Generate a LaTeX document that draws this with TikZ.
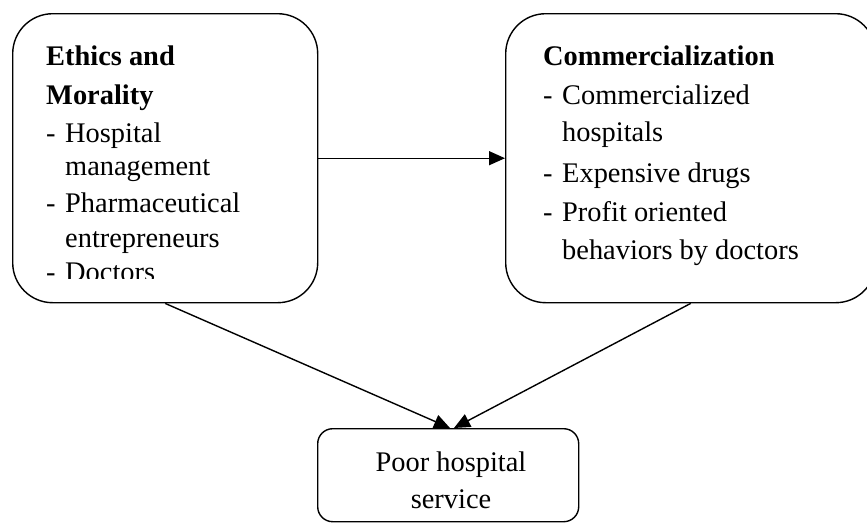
\documentclass[tikz,border=0pt]{standalone}
\usepackage{fontspec}
\setmainfont{Liberation Serif}
\usetikzlibrary{arrows.meta}
\begin{document}
\begin{tikzpicture}[x=1pt,y=-1pt,
  box/.style={draw, line width=1.4pt, rounded corners=40pt, inner sep=0pt, anchor=north west},
  smallbox/.style={box, rounded corners=15pt},
  arr/.style={line width=1.4pt, -{Triangle[length=16pt,width=14pt]}},
  txt/.style={anchor=base west, inner sep=0pt, font=\fontsize{28.4}{30}\selectfont},
  hd/.style={txt, font=\fontsize{28.4}{30}\selectfont\bfseries},
  ctxt/.style={txt, anchor=base}]
\useasboundingbox (0,0) rectangle (867,523);
\clip (0,0) rectangle (867,523);
\newcommand{\dashitem}{\makebox[19pt][l]{-}}
% boxes
\node[box, minimum width=305pt, minimum height=289pt] (L) at (12,13) {};
\node[box, minimum width=370pt, minimum height=289pt] (R) at (505,13) {};
\node[smallbox, minimum width=261pt, minimum height=93pt] (B) at (317,428) {};
% left text
\begin{scope}
\clip (12,13) rectangle (317,278);
\node[hd] (l1) at (46,65) {Ethics and};
\node[hd] (l2) at (46,104) {Morality};
\node[txt] (l3) at (46,142) {\dashitem Hospital};
\node[txt] (l4) at (65,175) {management};
\node[txt] (l5) at (46,212) {\dashitem Pharmaceutical};
\node[txt] (l6) at (65,247) {entrepreneurs};
\node[txt] (l7) at (46,281) {\dashitem Doctors};
\end{scope}
% right text
\node[hd] (r1) at (543,65) {Commercialization};
\node[txt] (r2) at (543,104) {\dashitem Commercialized};
\node[txt] (r3) at (562,141) {hospitals};
\node[txt] (r4) at (543,182) {\dashitem Expensive drugs};
\node[txt] (r5) at (543,221) {\dashitem Profit oriented};
\node[txt] (r6) at (562,259) {behaviors by doctors};
% bottom text
\node[ctxt] (b1) at (451,471) {Poor hospital};
\node[ctxt] (b2) at (451,508) {service};
% connectors
\coordinate (tl) at (450,428);
\coordinate (tr) at (454,428);
\draw[arr] (L.east) -- (R.west);
\draw[arr] (L.south) -- (tl);
\draw[arr] (R.south) -- (tr);
\end{tikzpicture}
\end{document}
